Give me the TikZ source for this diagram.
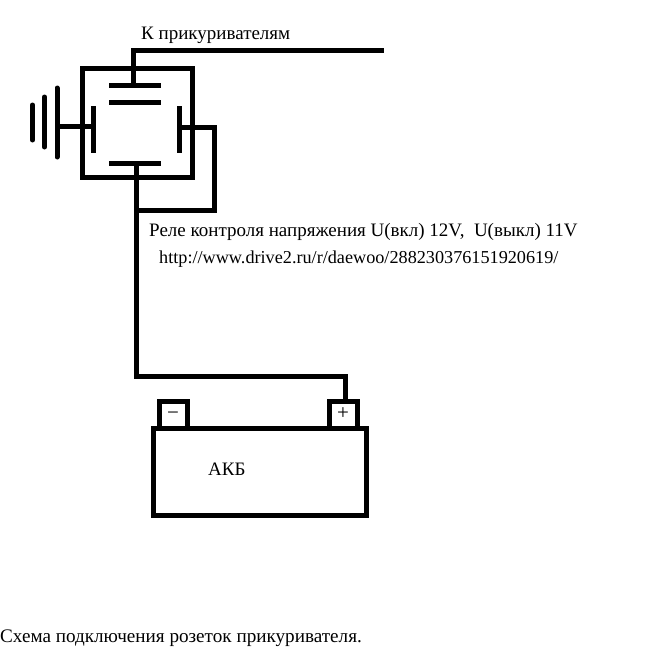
\documentclass[tikz,border=0pt]{standalone}
\usepackage{fontspec}
\setmainfont{Liberation Serif}
\usetikzlibrary{positioning,calc}
\tikzset{wire/.style={line width=5pt},
plate/.style={line width=5pt, line cap=round},
block/.style={draw, line width=5pt, inner sep=0pt},
pole/.style={block, minimum width=28pt, minimum height=27pt, text height=8pt, text depth=8pt, font=\fontsize{21}{21}\selectfont},
caption/.style={anchor=base west, inner sep=0pt, font=\fontsize{19}{21}\selectfont}
}
\begin{document}
\begin{tikzpicture}[x=1pt,y=-1pt]
    \useasboundingbox (0,0) rectangle (659,669);
    % relay with its four contacts
    \node[block,minimum width=110pt,minimum height=109pt] (relay) at (137,123) {};
    \coordinate (topa) at (109,85);
    \coordinate (topb) at (161,85);
    \coordinate (nca) at (109,102);
    \coordinate (ncb) at (161,102);
    \coordinate (lowa) at (109,163);
    \coordinate (lowb) at (161,163);
    \coordinate (lefta) at (93,106);
    \coordinate (leftb) at (93,153);
    \coordinate (righta) at (179.5,106);
    \coordinate (rightb) at (179.5,153);
    \draw[wire] (topa) -- (topb);
    \draw[wire] (nca) -- (ncb);
    \draw[wire] (lowa) -- (lowb);
    \draw[wire] (lefta) -- (leftb);
    \draw[wire] (righta) -- (rightb);
    % battery
    \node[block,minimum width=213pt,minimum height=87pt] (akb) at (259.5,471.5) {};
    \node[pole] (minus) at (173,415) {\raisebox{-4pt}{−}};
    \node[pole] (plus) at (343,415) {\raisebox{-4pt}{+}};
    % ground
    \coordinate (gnda) at (57,88);
    \coordinate (gndb) at (57,157);
    \coordinate (gndc) at (44.5,97);
    \coordinate (gndd) at (44.5,147);
    \coordinate (gnde) at (32.5,105);
    \coordinate (gndf) at (32.5,140);
    \draw[plate] (gnda) -- (gndb);
    \draw[plate] (gndc) -- (gndd);
    \draw[plate] (gnde) -- (gndf);
    \coordinate (gndwire) at (93,126.5);
    \draw[wire] (gndwire) -- (gndwire -| gnda);
    % wires
    \coordinate (lamp) at (384,50.5);
    \coordinate (topmid) at (133.5,85);
    \coordinate (rightmid) at (179.5,127);
    \coordinate (lowmid) at (136.5,163);
    \coordinate (joint) at (136.5,210);
    \coordinate (corner) at (345,376);
    \draw[wire] (topmid) |- (lamp);
    \draw[wire] (rightmid) -| (214,210) -- (joint);
    \draw[wire] (lowmid) -- (joint) |- (corner) -- (corner |- plus.north);
    % texts
    \node[caption] (lamps) at (141,40) {К прикуривателям};
    \node[caption] (volt) at (149,236) {Реле контроля напряжения U(вкл) 12V,\ \ U(выкл) 11V};
    \node[caption,font=\fontsize{18.2}{21}\selectfont] (url) at (159,263) {http://www.drive2.ru/r/daewoo/288230376151920619/};
    \node[caption] (name) at (208,475) {АКБ};
    \node[caption,font=\fontsize{19.15}{21}\selectfont] (title) at (0,642) {Схема подключения розеток прикуривателя.};
  \end{tikzpicture}
\end{document}
